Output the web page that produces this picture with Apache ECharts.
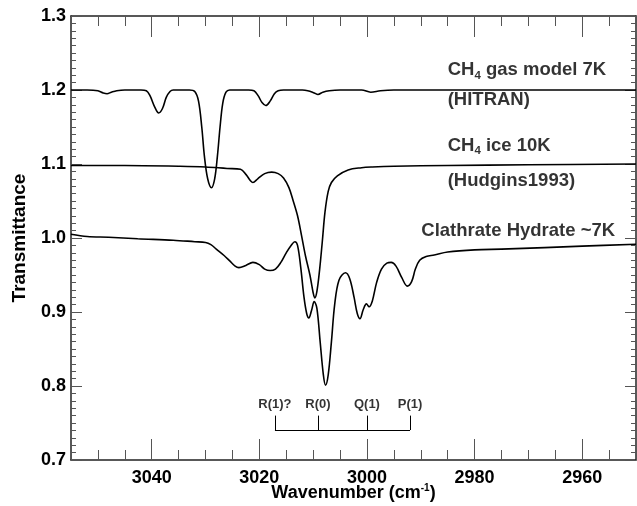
<!DOCTYPE html>
<html>
<head>
<meta charset="utf-8">
<script src="https://cdn.jsdelivr.net/npm/echarts@6/dist/echarts.min.js"></script>
<style>
  html, body { margin: 0; padding: 0; background: #fff; }
</style>
</head>
<body>
<div id="myChart" style="width:637px;height:506px;"></div>
<script>
// CH4 gas model 7K (HITRAN): [wavenumber, transmittance]
var gasData = [
  [3055, 1.200], [3052, 1.200], [3050, 1.199], [3049, 1.196], [3048.3, 1.195],
  [3047.5, 1.197], [3046.5, 1.199], [3045, 1.200], [3042, 1.200], [3041, 1.199],
  [3040.3, 1.192], [3039.5, 1.178], [3038.7, 1.169], [3038, 1.175], [3037.3, 1.190],
  [3036.6, 1.198], [3036, 1.200], [3033, 1.200], [3032, 1.198], [3031.3, 1.185],
  [3030.7, 1.150], [3030.2, 1.110], [3029.6, 1.080], [3028.9, 1.068], [3028.3, 1.080],
  [3027.8, 1.110], [3027.3, 1.150], [3026.8, 1.182], [3026.2, 1.197], [3025.5, 1.200],
  [3022, 1.200], [3021, 1.199], [3020.2, 1.192], [3019.5, 1.183], [3018.8, 1.179],
  [3018, 1.185], [3017.2, 1.195], [3016.5, 1.199], [3015.5, 1.200], [3012, 1.200],
  [3011, 1.199], [3009.8, 1.196], [3009.1, 1.194], [3008.2, 1.197], [3007, 1.199],
  [3005, 1.200], [3001, 1.200], [2999.3, 1.197], [2997.5, 1.199], [2995, 1.200],
  [2950, 1.200]
];

// CH4 ice 10K (Hudgins1993)
var iceData = [
  [3055, 1.098], [3045, 1.098], [3035, 1.097], [3030, 1.096], [3026, 1.094],
  [3023.5, 1.093], [3022.5, 1.086], [3021.6, 1.077], [3021.2, 1.075], [3020.3, 1.080],
  [3019, 1.087], [3017.7, 1.089], [3016.5, 1.087], [3015.5, 1.081], [3014.5, 1.068],
  [3013.7, 1.050], [3012.9, 1.030], [3012.2, 1.005], [3011.4, 0.975], [3010.6, 0.950],
  [3010.0, 0.926], [3009.7, 0.919], [3009.3, 0.928], [3008.8, 0.957], [3008.3, 0.995],
  [3007.8, 1.035], [3007.2, 1.063], [3006.6, 1.075], [3005.5, 1.084], [3003.5, 1.092],
  [3001, 1.095], [2999, 1.096], [2995, 1.097], [2985, 1.098], [2970, 1.099],
  [2950, 1.100]
];

// Clathrate Hydrate ~7K
var clathrateData = [
  [3055, 1.005], [3052, 1.002], [3048, 1.001], [3042.6, 0.999], [3036, 0.997],
  [3032, 0.995], [3030, 0.994], [3029, 0.991], [3028, 0.985], [3026.5, 0.976],
  [3025.5, 0.969], [3024.5, 0.962], [3023.8, 0.960], [3022.5, 0.963], [3021.2, 0.967],
  [3020, 0.964], [3019, 0.958], [3018, 0.956], [3017, 0.958], [3016, 0.967],
  [3015, 0.980], [3014, 0.991], [3013.4, 0.995], [3012.9, 0.990], [3012.3, 0.960],
  [3011.7, 0.920], [3011.2, 0.898], [3010.8, 0.892], [3010.3, 0.902], [3009.8, 0.914],
  [3009.3, 0.905], [3008.7, 0.860], [3008.1, 0.815], [3007.7, 0.801], [3007.2, 0.815],
  [3006.6, 0.860], [3006, 0.910], [3005.2, 0.943], [3004, 0.953], [3003.2, 0.945],
  [3002.4, 0.920], [3001.8, 0.898], [3001.3, 0.891], [3000.7, 0.903], [3000.1, 0.911],
  [2999.6, 0.907], [2999.0, 0.915], [2998.2, 0.940], [2997.3, 0.958], [2996.3, 0.966],
  [2995.5, 0.967], [2994.6, 0.962], [2993.5, 0.946], [2992.5, 0.935], [2991.7, 0.941],
  [2991, 0.958], [2990.2, 0.970], [2989, 0.975], [2987.5, 0.977], [2985, 0.981],
  [2980, 0.984], [2975, 0.985], [2967, 0.987], [2960, 0.989], [2950, 0.9915]
];

// axis ticks
var xMajorTicks = [2960, 2980, 3000, 3020, 3040];

// line assignments
var bandLabels = ['R(1)?', 'R(0)', 'Q(1)', 'P(1)'];
var bandPositions = [3017.1, 3009.1, 3000.0, 2992.0];
var bracketBase = 0.7405;
var bracketTop = 0.76;
var bandLabelY = 0.775;

// curve labels: [wavenumber, transmittance, key]
var curveNotes = [
  [2985.0, 1.227, 'gas'],
  [2985.0, 1.187, 'hitran'],
  [2985.0, 1.125, 'ice'],
  [2985.0, 1.077, 'hudgins'],
  [2989.9, 1.009, 'clath']
];

var FONT = 'Liberation Sans, Arial, Helvetica, sans-serif';
var TICK = '#555';
var AXIS = '#222';

var myChart = echarts.init(document.getElementById('myChart'));

function xAxisDef(pos, major, showLine) {
  var ax = {
    type: 'value', min: 2950, max: 3055, inverse: true, position: pos,
    splitLine: { show: false },
    axisLine: { show: showLine, lineStyle: { color: AXIS, width: 1.5 } },
    axisLabel: { show: false }
  };
  if (major) {
    ax.axisTick = { show: true, inside: true, length: 21, customValues: xMajorTicks, lineStyle: { color: TICK, width: 1 } };
  } else {
    ax.interval = 5;
    ax.axisTick = { show: true, inside: true, length: 10, lineStyle: { color: TICK, width: 1 } };
  }
  return ax;
}

var xBottom = xAxisDef('bottom', true, true);
xBottom.name = '{a|Wavenumber (cm}{s|-1}{a|)}';
xBottom.nameLocation = 'middle';
xBottom.nameGap = 22;
xBottom.nameMoveOverlap = false;
xBottom.nameTextStyle = {
  rich: {
    a: { color: '#000', fontFamily: FONT, fontWeight: 'bold', fontSize: 18, lineHeight: 22 },
    s: { color: '#000', fontFamily: FONT, fontWeight: 'bold', fontSize: 10, lineHeight: 22, padding: [0, 0, 9, 0] }
  }
};
xBottom.axisLabel = {
  show: true, customValues: xMajorTicks, margin: 9,
  color: '#000', fontFamily: FONT, fontWeight: 'bold', fontSize: 18,
  formatter: function (v) { return String(v); }
};

function yAxisDef(pos) {
  return {
    type: 'value', min: 0.7, max: 1.3, interval: 0.1, position: pos,
    splitLine: { show: false },
    axisLine: { show: true, lineStyle: { color: AXIS, width: 1.5 } },
    axisTick: { show: true, inside: true, length: 11, lineStyle: { color: TICK, width: 1 } },
    minorTick: { show: true, splitNumber: 10, length: 5, lineStyle: { color: TICK, width: 1 } },
    axisLabel: { show: false }
  };
}

var yLeft = yAxisDef('left');
yLeft.name = 'Transmittance';
yLeft.nameLocation = 'middle';
yLeft.nameGap = 42;
yLeft.nameMoveOverlap = false;
yLeft.nameTextStyle = { color: '#000', fontFamily: FONT, fontWeight: 'bold', fontSize: 19 };
yLeft.axisLabel = {
  show: true, margin: 5,
  color: '#000', fontFamily: FONT, fontWeight: 'bold', fontSize: 18,
  formatter: function (v) { return v.toFixed(1); }
};

function curve(name, data) {
  return {
    name: name,
    type: 'line',
    data: data,
    smooth: 0.35,
    showSymbol: false,
    symbol: 'none',
    silent: true,
    lineStyle: { color: '#000', width: 1.6 }
  };
}

// bracket segments built from the band positions
var bracketLines = [
  [{ coord: [bandPositions[0], bracketBase] }, { coord: [bandPositions[bandPositions.length - 1], bracketBase] }]
];
bandPositions.forEach(function (p) {
  bracketLines.push([{ coord: [p, bracketBase] }, { coord: [p, bracketTop] }]);
});

var noteText = {
  gas: '{a|CH}{s|4}{a| gas model 7K}',
  hitran: '{a|(HITRAN)}',
  ice: '{a|CH}{s|4}{a| ice 10K}',
  hudgins: '{a|(Hudgins1993)}',
  clath: '{a|Clathrate Hydrate ~7K}'
};

var option = {
  animation: false,
  backgroundColor: '#fff',
  grid: { left: 71, right: 1, top: 16, bottom: 46, outerBoundsMode: 'none' },
  xAxis: [
    xBottom,
    xAxisDef('bottom', false, false),
    xAxisDef('top', true, true),
    xAxisDef('top', false, false)
  ],
  yAxis: [yLeft, yAxisDef('right')],
  series: [
    curve('CH4 gas model 7K', gasData),
    curve('CH4 ice 10K', iceData),
    curve('Clathrate Hydrate ~7K', clathrateData),
    {
      name: 'bracket',
      type: 'line',
      data: [],
      silent: true,
      markLine: {
        silent: true,
        symbol: ['none', 'none'],
        label: { show: false },
        lineStyle: { color: '#000', width: 1, type: 'solid' },
        data: bracketLines
      }
    },
    {
      name: 'bandLabels',
      type: 'scatter',
      symbolSize: 0,
      silent: true,
      data: bandPositions.map(function (p, i) { return [p, bandLabelY, bandLabels[i]]; }),
      label: {
        show: true,
        position: 'inside',
        color: '#000', fontFamily: FONT, fontWeight: 'bold', fontSize: 13,
        formatter: function (p) { return p.data[2]; }
      }
    },
    {
      name: 'notes',
      type: 'scatter',
      symbolSize: 0,
      silent: true,
      data: curveNotes,
      label: {
        show: true,
        position: 'right',
        distance: 0,
        formatter: function (p) { return noteText[p.data[2]]; },
        rich: {
          a: { color: '#000', fontFamily: FONT, fontWeight: 'bold', fontSize: 18.5, lineHeight: 21 },
          s: { color: '#000', fontFamily: FONT, fontWeight: 'bold', fontSize: 11.5, lineHeight: 21, padding: [11, 0, 0, 0] }
        }
      }
    }
  ]
};

myChart.setOption(option);
</script>
</body>
</html>
